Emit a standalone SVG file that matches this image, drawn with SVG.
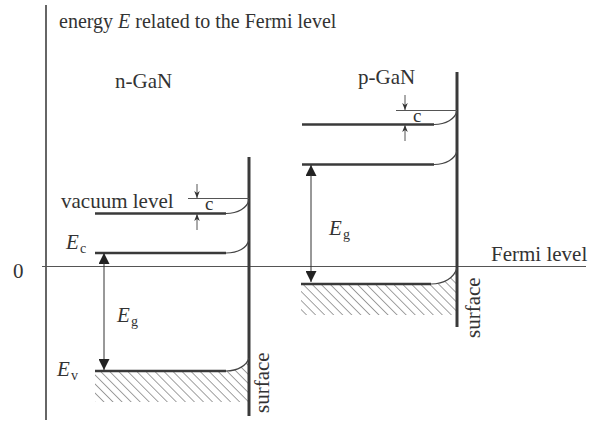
<svg xmlns="http://www.w3.org/2000/svg" width="596" height="423" viewBox="0 0 596 423">
<style>
text{font-family:"Liberation Serif","Times New Roman",serif;font-size:21px;fill:#333}
.it{font-style:italic}
.sub{font-size:14px}
.cl{font-size:19px}
.lvl{stroke:#3a3a3a;stroke-width:2.5;fill:none}
.crv{stroke:#444;stroke-width:1.2;fill:none}
.thin{stroke:#555;stroke-width:1;fill:none}
.surf{stroke:#3a3a3a;stroke-width:3;fill:none}
.hatch{stroke:#444;stroke-width:1}
</style>
<defs>
<pattern id="hp" patternUnits="userSpaceOnUse" width="6.4" height="8" patternTransform="rotate(-45)">
<line x1="0" y1="0" x2="0" y2="8" class="hatch"/>
</pattern>
<marker id="ah" viewBox="0 0 10 10" refX="10" refY="5" markerWidth="11" markerHeight="11" markerUnits="userSpaceOnUse" orient="auto">
<path d="M0,0 L10,5 L0,10 Z" fill="#222"/>
</marker>
<marker id="sa" viewBox="0 0 10 10" refX="10" refY="5" markerWidth="8" markerHeight="7" markerUnits="userSpaceOnUse" orient="auto">
<path d="M0,1 L10,5 L0,9 L3,5 Z" fill="#333"/>
</marker>
</defs>
<g id="axes">
<line x1="46" y1="5" x2="46" y2="420" stroke="#333" stroke-width="1.5"/>
<line x1="42" y1="266.5" x2="586" y2="266.5" stroke="#555" stroke-width="1"/>
<text x="59" y="28" style="font-size:20px">energy <tspan class="it">E</tspan> related to the Fermi level</text>
<text x="13" y="278">0</text>
<text x="491" y="261">Fermi level</text>
</g>
<g id="n-GaN">
<text x="115" y="88">n-GaN</text>
<path d="M95,371 L225,371 C238,371 247,365 249,358 L249,402 L95,402 Z" fill="url(#hp)"/>
<line class="surf" x1="249" y1="157" x2="249" y2="416"/>
<path class="lvl" d="M95,213.5 H226"/><path class="crv" d="M226,213.5 C238,213.5 247,208 249,200"/>
<path class="lvl" d="M95,253 H226"/><path class="crv" d="M226,253 C238,253 247,248 249,240"/>
<path class="lvl" d="M95,371 H226"/><path class="crv" d="M226,371 C238,371 247,365 249,358"/>
<line class="thin" x1="188" y1="198.5" x2="249" y2="198.5"/>
<text x="61" y="208">vacuum level</text>
<text x="205" y="210" class="cl">c</text>
<text x="66" y="249" class="it">E</text><text x="80" y="253" class="sub">c</text>
<text x="117" y="322" class="it">E</text><text x="131" y="326" class="sub">g</text>
<text x="57" y="376" class="it">E</text><text x="71" y="380" class="sub">v</text>
<text transform="translate(269,413) rotate(-90)">surface</text>
</g>
<g id="p-GaN">
<text x="358" y="84">p-GaN</text>
<path d="M301,284 L431,284 C444,284 454,278 457,268 L457,315 L301,315 Z" fill="url(#hp)"/>
<line class="surf" x1="457" y1="72" x2="457" y2="327"/>
<path class="lvl" d="M302,124.5 H434"/><path class="crv" d="M434,124.5 C446,124.5 455,119 457,111"/>
<path class="lvl" d="M302,164.5 H434"/><path class="crv" d="M434,164.5 C446,164.5 455,159 457,151"/>
<path class="lvl" d="M301,284 H431"/><path class="crv" d="M431,284 C444,284 454,278 457,268"/>
<line class="thin" x1="396" y1="110.5" x2="457" y2="110.5"/>
<text x="413" y="122" class="cl">c</text>
<text x="329" y="235" class="it">E</text><text x="343" y="239" class="sub">g</text>
<text transform="translate(480,338) rotate(-90)">surface</text>
</g>
<g id="connectors">
<line x1="104" y1="262" x2="104" y2="253" stroke="#333" stroke-width="1" marker-end="url(#ah)"/>
<line x1="104" y1="262" x2="104" y2="370" stroke="#333" stroke-width="1" marker-end="url(#ah)"/>
<line x1="311" y1="175" x2="311" y2="165" stroke="#333" stroke-width="1" marker-end="url(#ah)"/>
<line x1="311" y1="175" x2="311" y2="282" stroke="#333" stroke-width="1" marker-end="url(#ah)"/>
<line class="thin" x1="197" y1="184" x2="197" y2="198" marker-end="url(#sa)"/>
<line class="thin" x1="197" y1="230" x2="197" y2="214" marker-end="url(#sa)"/>
<line class="thin" x1="405" y1="95" x2="405" y2="110" marker-end="url(#sa)"/>
<line class="thin" x1="405" y1="141" x2="405" y2="125" marker-end="url(#sa)"/>
</g>
</svg>
